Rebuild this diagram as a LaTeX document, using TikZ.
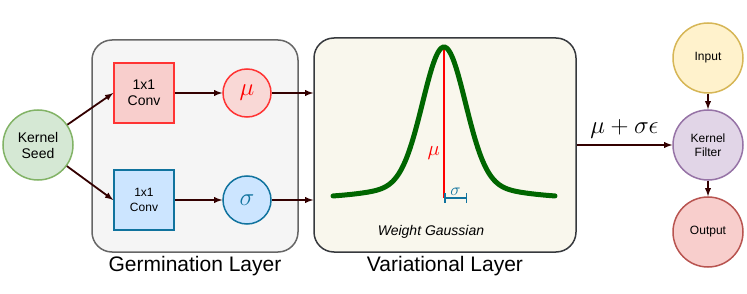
\documentclass[tikz,border=0pt]{standalone}
\usepackage{fontspec}
\setmainfont{Liberation Sans}
\usetikzlibrary{positioning}
\definecolor{seedfill}{HTML}{D5E8D4}\definecolor{seedline}{HTML}{82B366}
\definecolor{redfill}{HTML}{F8CECC}\definecolor{redline}{HTML}{FF3333}
\definecolor{bluefill}{HTML}{CCE5FF}\definecolor{blueline}{HTML}{10739E}
\definecolor{inpfill}{HTML}{FFF2CC}\definecolor{inpline}{HTML}{D6B656}
\definecolor{kerfill}{HTML}{E1D5E7}\definecolor{kerline}{HTML}{9673A6}
\definecolor{outline}{HTML}{B85450}
\definecolor{arrowc}{HTML}{330000}
\definecolor{gaussgreen}{HTML}{006600}

\begin{document}
\begin{tikzpicture}[x=1pt,y=-1pt,
  conn/.style={-latex,draw=arrowc,line width=1.8pt},
  ball/.style={circle,line width=1.5pt,minimum size=70pt,inner sep=0pt,align=center,font=\fontsize{12}{14}\selectfont},
  conv/.style={rectangle,line width=1.5pt,minimum size=60pt,inner sep=0pt,align=center,font=\fontsize{14}{16}\selectfont},
  param/.style={circle,line width=1.5pt,minimum size=48pt,inner sep=0pt,font=\fontsize{27}{27}\selectfont},
  layer/.style={rectangle,rounded corners=20pt,line width=1.5pt,label={[font=\fontsize{21}{23}\selectfont]below:#1}}]
  \useasboundingbox (0,0) rectangle (747,294);
  \def\B{198} % baseline of the gaussian
  \def\M{444} % mean
  % layers
  \node[layer={Germination Layer},fill=black!4,draw=black!60,minimum width=206pt,minimum height=212pt] (germ) at (195,146) {};
  \node[layer={Variational Layer},fill={rgb,255:red,249;green,247;blue,237},draw={rgb,255:red,54;green,57;blue,61},minimum width=262pt,minimum height=214pt] (var) at (445,145) {};
  % germination layer
  \node[ball,fill=seedfill,draw=seedline,font=\fontsize{14}{16}\selectfont] (seed) at (38,145) {Kernel\\Seed};
  \node[conv,fill=redfill,draw=redline] (convmu) at (144,93) {1x1\\Conv};
  \node[conv,fill=bluefill,draw=blueline,font=\fontsize{12}{15}\selectfont] (convsig) at (144,200) {1x1\\Conv};
  \node[param,fill=redfill!80,draw=redline,text=red] (mu) at (247,93) {$\mu$};
  \node[param,fill=bluefill,draw=blueline,text=blueline] (sig) at (247,200) {$\sigma$};
  \draw[conn] (seed) -- (convmu.west);
  \draw[conn] (seed) -- (convsig.west);
  \draw[conn] (convmu) -- (mu);
  \draw[conn] (convsig) -- (sig);
  \draw[conn] (mu) -- (mu -| var.west);
  \draw[conn] (sig) -- (sig -| var.west);
  % variational layer
  \draw[red,line width=1.5pt] (\M,47) -- (\M,\B) node[pos=0.7,left,text=red,font=\fontsize{22}{22}\selectfont] {$\mu$};
  \draw[blueline,line width=1.5pt,|-|] (\M,\B) -- (467,\B) node[midway,above=-2pt,font=\fontsize{19}{19}\selectfont] {$\sigma$};
  \draw[gaussgreen,line width=5pt,line cap=round] plot[domain=-111:111,samples=120,smooth] ({\M+\x},{\B-(137*exp(0-(\x/30)^2)+14*exp(0-(\x/80)^2))});
  \node[font=\itshape\fontsize{14}{16}\selectfont] (wg) at (431,232) {Weight Gaussian};
  % kernel filter
  \node[ball,fill=inpfill,draw=inpline] (inp) at (708,58) {Input};
  \node[ball,fill=kerfill,draw=kerline] (kf) at (708,145) {Kernel\\Filter};
  \node[ball,fill=redfill,draw=outline] (out) at (708,232) {Output};
  \draw[conn] (var.east) -- (kf) node[midway,above=2pt,font=\fontsize{26}{26}\selectfont] {$\mu+\sigma\epsilon$};
  \draw[conn] (inp) -- (kf);
  \draw[conn] (kf) -- (out);
\end{tikzpicture}
\end{document}
